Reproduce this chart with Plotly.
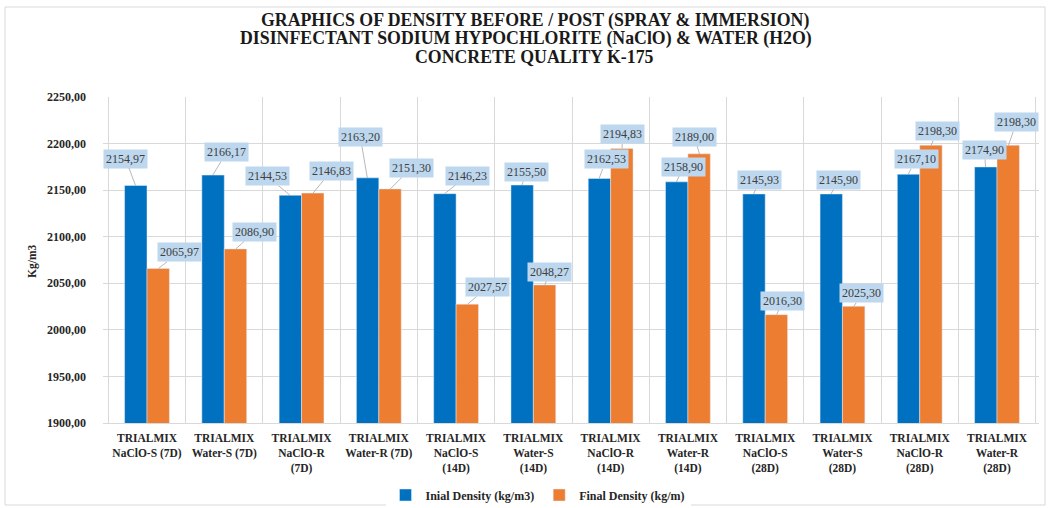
import plotly.graph_objects as go

categories = [
    "TRIALMIX<br>NaClO-S (7D)", "TRIALMIX<br>Water-S (7D)", "TRIALMIX<br>NaClO-R<br>(7D)",
    "TRIALMIX<br>Water-R (7D)", "TRIALMIX<br>NaClO-S<br>(14D)", "TRIALMIX<br>Water-S<br>(14D)",
    "TRIALMIX<br>NaClO-R<br>(14D)", "TRIALMIX<br>Water-R<br>(14D)", "TRIALMIX<br>NaClO-S<br>(28D)",
    "TRIALMIX<br>Water-S<br>(28D)", "TRIALMIX<br>NaClO-R<br>(28D)", "TRIALMIX<br>Water-R<br>(28D)",
]
initial_density = [2154.97, 2166.17, 2144.53, 2163.20, 2146.23, 2155.50,
                   2162.53, 2158.90, 2145.93, 2145.90, 2167.10, 2174.90]
final_density = [2065.97, 2086.90, 2146.83, 2151.30, 2027.57, 2048.27,
                 2194.83, 2189.00, 2016.30, 2025.30, 2198.30, 2198.30]
title_lines = [
    "GRAPHICS OF DENSITY BEFORE / POST (SPRAY &amp; IMMERSION)",
    "DISINFECTANT SODIUM HYPOCHLORITE (NaClO) &amp; WATER (H2O)",
    "CONCRETE QUALITY K-175",
]
y_title = "Kg/m3"

# label offsets (pixels) from bar top, styling only
init_offsets = [(-10, -27), (14, -23), (-23, -19), (-7, -41), (23, -18), (5, -13),
                (7, -19), (7, -15), (6, -14), (8, -14), (8, -15), (-1, -17)]
final_offsets = [(21, -16), (19, -17), (18, -22), (21, -21), (20, -17), (5, -13),
                 (0, -14), (-5, -17), (6, -14), (8, -13), (6, -14), (8, -23)]

BLUE = "#0070C0"
ORANGE = "#ED7D31"
SERIF = "Liberation Serif, Times New Roman, serif"
TXT = "#262626"

# layout geometry (pixels)
W, H = 1050, 508
ML, MR, MT, MB = 103, 11, 97, 85
PW, PH = W - ML - MR, H - MT - MB


def px_x(p):
    return (p - ML) / PW


def px_y(p):
    return (H - MB - p) / PH


fig = go.Figure()
fig.add_trace(go.Bar(x=categories, y=initial_density, name="Inial Density (kg/m3)",
                     marker_color=BLUE, offsetgroup="a"))
fig.add_trace(go.Bar(x=categories, y=final_density, name="Final Density (kg/m)",
                     marker_color=ORANGE, offsetgroup="b"))


def fmt(v):
    return f"{v:.2f}".replace(".", ",")


annotations = []
for i, cat in enumerate(categories):
    for vals, offs, shift in ((initial_density, init_offsets, -11.5),
                              (final_density, final_offsets, 11.5)):
        dx, dy = offs[i]
        annotations.append(dict(
            x=cat, y=vals[i], xref="x", yref="y", xshift=shift,
            text=fmt(vals[i]), showarrow=True, arrowhead=0, arrowwidth=0.8,
            arrowcolor="#A6A6A6", ax=dx, ay=dy, standoff=0,
            bgcolor="#BDD7EE", borderpad=2,
            font=dict(family=SERIF, size=12, color="#404040"),
        ))

for line, ypix, xpix in zip(title_lines, [20, 38.5, 57], [535, 526, 534]):
    annotations.append(dict(
        text=line, xref="paper", yref="paper", x=px_x(xpix), y=px_y(ypix),
        xanchor="center", yanchor="middle", showarrow=False,
        font=dict(family=SERIF, size=17.8, color="#1A1A1A", weight="bold"),
    ))

annotations.append(dict(
    text=y_title, xref="paper", yref="paper", x=px_x(32), y=px_y(262),
    xanchor="center", yanchor="middle", showarrow=False, textangle=-90,
    font=dict(family=SERIF, size=11.5, color=TXT, weight="bold"),
))

fig.update_layout(
    width=W, height=H,
    margin=dict(l=ML, r=MR, t=MT, b=MB, autoexpand=False),
    paper_bgcolor="white", plot_bgcolor="white",
    barmode="group", bargap=0.42, bargroupgap=0,
    separators=",.",
    font=dict(family=SERIF, color=TXT),
    showlegend=True,
    legend=dict(orientation="h", xref="container", yref="container",
                x=538 / W, xanchor="center", y=1 - 495 / H, yanchor="middle",
                font=dict(family=SERIF, size=12, color=TXT, weight="bold"),
                itemwidth=30),
    annotations=annotations,
    shapes=[dict(type="rect", xref="paper", yref="paper",
                 x0=px_x(5), x1=px_x(1045), y0=px_y(505), y1=px_y(7),
                 line=dict(color="#D9D9D9", width=1), fillcolor="rgba(0,0,0,0)")],
)
fig.update_xaxes(
    automargin=False,
    tickson="boundaries", showgrid=True, gridcolor="#D9D9D9", gridwidth=1,
    showline=True, linecolor="#D9D9D9", ticks="",
    ticklabelstandoff=4,
    tickfont=dict(family=SERIF, size=11.5, color=TXT, weight="bold"),
    tickangle=0,
)
fig.update_yaxes(
    automargin=False,
    range=[1900, 2250], dtick=50, tickformat=".2f",
    showgrid=True, gridcolor="#D9D9D9", zeroline=False, showline=False, ticks="",
    ticklabelstandoff=16,
    tickfont=dict(family=SERIF, size=12, color=TXT, weight="bold"),
)

fig.write_html("out.html",
               config={"displayModeBar": False},
               post_script="document.body.style.margin='0';document.body.style.overflow='hidden';")
